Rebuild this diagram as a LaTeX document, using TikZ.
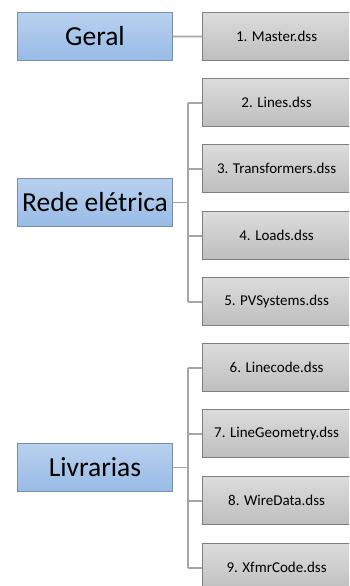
\documentclass[tikz,border=0pt]{standalone}
\usepackage{fontspec}
\setmainfont{Carlito}
\definecolor{bluetop}{HTML}{B8D0EE}
\definecolor{bluebot}{HTML}{98BBE6}
\definecolor{blueedge}{HTML}{7A8FA8}
\definecolor{graytop}{HTML}{DCDCDC}
\definecolor{graybot}{HTML}{BEBEBE}
\definecolor{grayedge}{HTML}{808080}
\definecolor{conn}{HTML}{A6A6A6}
\tikzset{
  mainbox/.style={draw=blueedge, line width=1pt, top color=bluetop, bottom color=bluebot,
    minimum width=155pt, minimum height=48pt, inner sep=0pt, anchor=north west,
    font=\fontsize{27.5}{29}\selectfont},
  filebox/.style={draw=grayedge, line width=1.2pt, top color=graytop, bottom color=graybot,
    minimum width=148pt, minimum height=48pt, inner sep=0pt, anchor=north west,
    font=\fontsize{15}{17}\selectfont},
  link/.style={draw=conn, line width=1.8pt}
}
\begin{document}
\begin{tikzpicture}[x=1pt,y=-1pt]
\useasboundingbox (0,0) rectangle (349,586);
\clip (0,0) rectangle (349,586);
% main boxes
\node[mainbox] (geral) at (17,12) {Geral};
\node[mainbox] (rede) at (17,178) {Rede elétrica};
\node[mainbox] (livr) at (17,443) {Livrarias};
% file boxes
\node[filebox] (f1) at (202,12) {1. Master.dss};
\node[filebox] (f2) at (202,78) {2. Lines.dss};
\node[filebox] (f3) at (202,144) {3. Transformers.dss};
\node[filebox] (f4) at (202,211) {4. Loads.dss};
\node[filebox] (f5) at (202,277) {5. PVSystems.dss};
\node[filebox] (f6) at (202,343) {6. Linecode.dss};
\node[filebox] (f7) at (202,409) {7. LineGeometry.dss};
\node[filebox] (f8) at (202,476) {8. WireData.dss};
\node[filebox] (f9) at (202,543) {9. XfmrCode.dss};
% connectors
\draw[link] (geral.east) -- (f1.west);
\coordinate (t1) at (188,0);
\draw[link] (rede.east) -- (rede.east -| t1);
\foreach \f in {f2,f3,f4,f5}{
  \draw[link] (\f.west) -- (\f.west -| t1);
}
\draw[link] (f2.west -| t1) -- (f5.west -| t1);
\draw[link] (livr.east) -- (livr.east -| t1);
\foreach \f in {f6,f7,f8,f9}{
  \draw[link] (\f.west) -- (\f.west -| t1);
}
\draw[link] (f6.west -| t1) -- (f9.west -| t1);
\end{tikzpicture}
\end{document}
